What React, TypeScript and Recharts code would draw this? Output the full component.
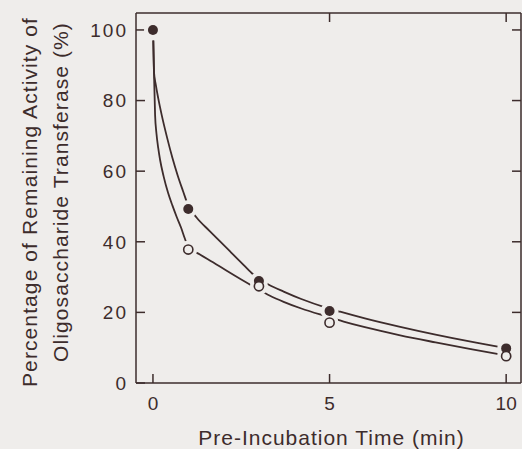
import React from 'react'
import { ComposedChart, Line, XAxis, YAxis } from 'recharts'

// scanned figure: brown ink on off-white paper
const INK = '#3d2c2c'
const PAPER = '#efedeb'
const FONT = '"Liberation Sans", Arial, sans-serif'

// measured points: pre-incubation time (min) vs remaining activity (%)
const filledTime = [0, 1, 3, 5, 10]
const filledPct = [100, 49.3, 28.9, 20.4, 9.8]
const openTime = [1, 3, 5, 10]
const openPct = [37.8, 27.4, 17.1, 7.6]

// hand-drawn fitted curves
const upperCurveTime = [0.01, 0.03, 0.08, 0.15, 0.25, 0.4, 0.55, 0.7, 0.85, 1, 1.24, 1.6, 1.9, 2.2, 2.5, 2.8, 3, 3.27, 3.7, 4.2, 4.92, 5.3, 6, 7, 8, 9, 10]
const upperCurvePct = [97, 88, 84.5, 80.6, 75.8, 69.5, 63.8, 58.8, 54.4, 50.2, 46.8, 43.1, 40.1, 37.1, 34.1, 31.1, 29.5, 27.9, 25.9, 23.8, 21.3, 20.2, 18.3, 15.9, 13.7, 11.7, 9.9]
const lowerCurveTime = [0.01, 0.03, 0.06, 0.1, 0.15, 0.2, 0.3, 0.43, 0.55, 0.67, 0.8, 0.9, 1, 1.33, 1.7, 2.1, 2.5, 2.9, 3.3, 3.7, 4.2, 4.9, 5.4, 6, 7, 8, 9, 10]
const lowerCurvePct = [97, 88, 76, 70.6, 66.5, 63.3, 58.6, 53.8, 50.3, 47.1, 43.9, 41.0, 38.6, 36.4, 34.2, 31.7, 29.3, 27.0, 24.8, 23.0, 21.1, 18.9, 17.4, 15.8, 13.5, 11.5, 9.6, 7.8]

const xTicks = [0, 5, 10]
const topTicks = [5, 10]
const yTicks = [0, 20, 40, 60, 80, 100]
const rightTicks = [20, 40, 60, 80, 100]

const xDomain = [-0.48, 10.42]
const yDomain = [0, 104.8]

const zip = (xs: number[], ys: number[]) => xs.map((x, i) => ({ x, y: ys[i] }))

const filled = zip(filledTime, filledPct)
const open = zip(openTime, openPct)
const allMarks = [...filled, ...open].sort((a, b) => a.x - b.x)
const upperCurve = zip(upperCurveTime, upperCurvePct)
const lowerCurve = zip(lowerCurveTime, lowerCurvePct)

const axisStroke = { stroke: INK, strokeWidth: 1.5 }
const tickText = { fill: INK, fontSize: 19, fontFamily: FONT }

function YTitle(props: any) {
  const vb = props.viewBox
  const cy = vb.y + vb.height / 2
  const common = { fill: INK, fontSize: 21, fontFamily: FONT, letterSpacing: 1.1, textAnchor: 'middle' as const }
  return (
    <g>
      <text x={37} y={cy + 4} transform={`rotate(-90, 37, ${cy + 4})`} {...common}>
        Percentage of Remaining Activity of
      </text>
      <text x={68} y={cy - 6} transform={`rotate(-90, 68, ${cy - 6})`} {...common}>
        Oligosaccharide Transferase (%)
      </text>
    </g>
  )
}

function XTitle(props: any) {
  const vb = props.viewBox
  return (
    <text
      x={vb.x + vb.width / 2 + 3}
      y={vb.y + vb.height - 4}
      textAnchor="middle"
      fill={INK}
      fontSize={21}
      fontFamily={FONT}
      letterSpacing={1}
    >
      Pre-Incubation Time (min)
    </text>
  )
}

// paper-coloured halo so the curves stop short of each symbol, as in the original
const gap = (p: any) => <circle key={`g${p.index}`} cx={p.cx} cy={p.cy} r={9} fill={PAPER} />
const dot = (p: any) => <circle key={`f${p.index}`} cx={p.cx} cy={p.cy} r={5} fill={INK} />
const ring = (p: any) => (
  <circle key={`o${p.index}`} cx={p.cx} cy={p.cy} r={4.6} fill={PAPER} stroke={INK} strokeWidth={1.6} />
)
const noLabel = () => <g />

export default function App() {
  return (
    <div style={{ position: 'absolute', left: 0, top: 0, width: 522, height: 449, background: PAPER }}>
      <ComposedChart width={522} height={449} margin={{ top: 0, right: 0, bottom: 0, left: 0 }}>
        <XAxis
          dataKey="x"
          type="number"
          domain={xDomain}
          allowDataOverflow
          ticks={xTicks}
          height={66}
          tickSize={-9}
          tickMargin={23}
          axisLine={axisStroke}
          tickLine={axisStroke}
          tick={tickText}
          label={<XTitle />}
        />
        <XAxis
          xAxisId="top"
          orientation="top"
          dataKey="x"
          type="number"
          domain={xDomain}
          allowDataOverflow
          ticks={topTicks}
          height={13}
          tickSize={-9}
          axisLine={axisStroke}
          tickLine={axisStroke}
          tick={noLabel}
        />
        <YAxis
          dataKey="y"
          type="number"
          domain={yDomain}
          allowDataOverflow
          ticks={yTicks}
          width={136}
          tickSize={-9}
          tickMargin={17}
          axisLine={axisStroke}
          tickLine={axisStroke}
          tick={{ ...tickText, letterSpacing: 2 }}
          label={<YTitle />}
        />
        <YAxis
          yAxisId="right"
          orientation="right"
          type="number"
          domain={yDomain}
          allowDataOverflow
          ticks={rightTicks}
          width={1}
          tickSize={-9}
          axisLine={axisStroke}
          tickLine={axisStroke}
          tick={noLabel}
        />
        <Line data={upperCurve} dataKey="y" type="monotone" stroke={INK} strokeWidth={1.8} dot={false} activeDot={false} isAnimationActive={false} />
        <Line data={lowerCurve} dataKey="y" type="monotone" stroke={INK} strokeWidth={1.8} dot={false} activeDot={false} isAnimationActive={false} />
        <Line data={allMarks} dataKey="y" stroke="none" dot={gap} activeDot={false} isAnimationActive={false} />
        <Line data={filled} dataKey="y" stroke="none" dot={dot} activeDot={false} isAnimationActive={false} />
        <Line data={open} dataKey="y" stroke="none" dot={ring} activeDot={false} isAnimationActive={false} />
      </ComposedChart>
    </div>
  )
}
